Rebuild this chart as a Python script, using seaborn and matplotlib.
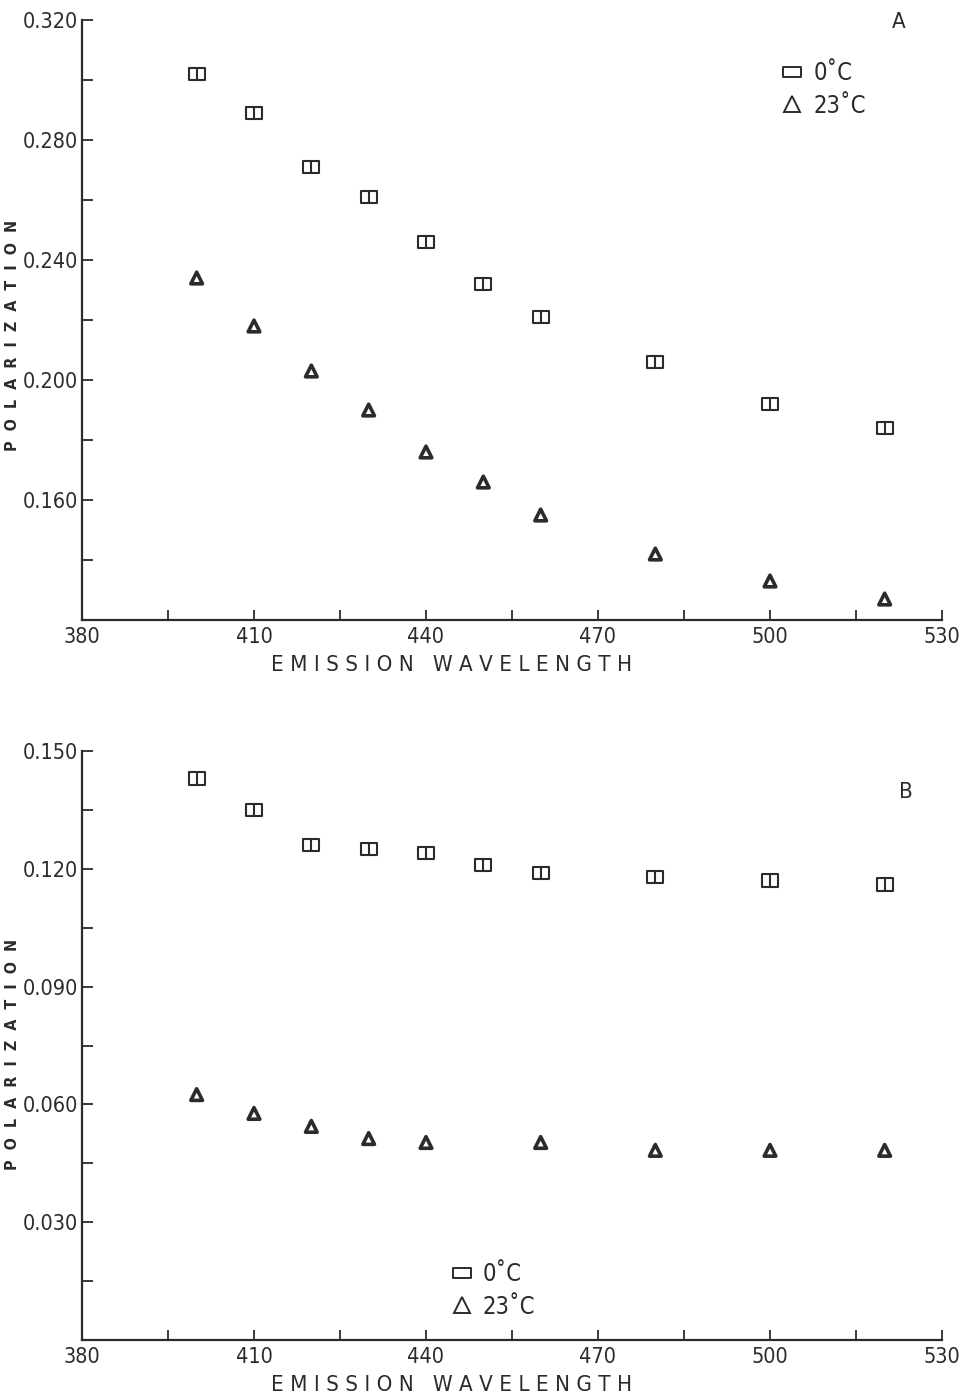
import numpy as np
import pandas as pd
import matplotlib
matplotlib.use("Agg")
import matplotlib.pyplot as plt
from matplotlib.path import Path
from matplotlib.lines import Line2D
import seaborn as sns

# values
wavelength = [400, 410, 420, 430, 440, 450, 460, 480, 500, 520]

pol_a_0c = [0.302, 0.289, 0.271, 0.261, 0.246, 0.232, 0.221, 0.206, 0.192, 0.184]
pol_a_23c = [0.234, 0.218, 0.203, 0.190, 0.176, 0.166, 0.155, 0.142, 0.133, 0.127]

pol_b_0c = [0.143, 0.135, 0.126, 0.125, 0.124, 0.121, 0.119, 0.118, 0.117, 0.116]
pol_b_23c = [0.0625, 0.0577, 0.0544, 0.0513, 0.0503, np.nan, 0.0503, 0.0483, 0.0483, 0.0483]

series_labels = ["0\u02daC", "23\u02daC"]
panel_letters = ["A", "B"]

sns.set_theme(style="ticks")
plt.rcParams["font.family"] = ["DejaVu Sans"]
plt.rcParams["font.stretch"] = "condensed"

INK = "#2b2b2b"

# box with a vertical bar in the middle, like the plotter symbol
box_path = Path(
    [(-1.3, -1), (1.3, -1), (1.3, 1), (-1.3, 1), (-1.3, -1), (0, -1), (0, 1)],
    [Path.MOVETO, Path.LINETO, Path.LINETO, Path.LINETO, Path.CLOSEPOLY,
     Path.MOVETO, Path.LINETO],
)
legend_box = Path(
    [(-1.4, -0.8), (1.4, -0.8), (1.4, 0.8), (-1.4, 0.8), (-1.4, -0.8)],
    [Path.MOVETO, Path.LINETO, Path.LINETO, Path.LINETO, Path.CLOSEPOLY],
)


def make_frame(values):
    df = pd.DataFrame({"wavelength": wavelength, "pol": values})
    return df.dropna()


fig = plt.figure(figsize=(9.61, 13.99), dpi=100)
ax_a = fig.add_axes([82 / 961, 1 - 620 / 1399, 860 / 961, 600 / 1399])
ax_b = fig.add_axes([82 / 961, 1 - 1340 / 1399, 860 / 961, 589 / 1399])

panels = [
    (ax_a, pol_a_0c, pol_a_23c, (0.120, 0.320), 0.020, 2, (0.798, 0.947), (0.942, 1.013), 0.475),
    (ax_b, pol_b_0c, pol_b_23c, (0.000, 0.150), 0.015, 2, (0.414, 0.148), (0.95, 0.947), 0.484),
]

for i, (ax, s0, s23, ylim, ystep, every, leg_pos, letter_pos, ylab_y) in enumerate(panels):
    sns.scatterplot(data=make_frame(s0), x="wavelength", y="pol", marker=box_path,
                    s=130, facecolor="none", edgecolor=INK, linewidth=1.5,
                    legend=False, ax=ax)
    sns.scatterplot(data=make_frame(s23), x="wavelength", y="pol", marker="^",
                    s=70, facecolor="none", edgecolor=INK, linewidth=2.6,
                    legend=False, ax=ax)
    ax.set_xlim(380, 530)
    ax.set_ylim(*ylim)
    sns.despine(ax=ax)
    for side in ["left", "bottom"]:
        ax.spines[side].set_color(INK)
        ax.spines[side].set_linewidth(1.6)

    xt = list(range(380, 531, 15))
    ax.set_xticks(xt)
    ax.set_xticklabels([str(v) if (v - 380) % 30 == 0 else "" for v in xt])
    yt = np.round(np.arange(ylim[0], ylim[1] + 1e-9, ystep), 3)
    ax.set_yticks(yt)
    ax.set_yticklabels([f"{v:.3f}" if k > 0 and k % every == 0 else "" for k, v in enumerate(yt)])
    ax.tick_params(axis="x", direction="in", length=7, width=1.3, color=INK,
                   labelsize=15.5, labelcolor=INK, pad=5)
    ax.tick_params(axis="y", direction="in", length=8, width=1.3, color=INK,
                   labelsize=15.5, labelcolor=INK, pad=3)

    ax.set_xlabel("E M I S S I O N   W A V E L E N G T H", fontsize=16, color=INK)
    ax.xaxis.set_label_coords((452 - 82) / 860, -0.058 if i == 0 else -0.059)
    ax.set_ylabel("P  O  L  A  R  I  Z  A  T  I  O  N", fontsize=11.5, color=INK,
                  fontweight="bold")
    ax.yaxis.set_label_coords(-0.072, ylab_y)

    handles = [
        Line2D([], [], marker=legend_box, linestyle="none", markersize=13,
               markerfacecolor="none", markeredgecolor=INK, markeredgewidth=1.4),
        Line2D([], [], marker="^", linestyle="none", markersize=11,
               markerfacecolor="none", markeredgecolor=INK, markeredgewidth=1.4),
    ]
    leg = ax.legend(handles, series_labels, loc="upper left", bbox_to_anchor=leg_pos,
                    frameon=False, fontsize=17, handletextpad=0.3, labelspacing=0.35,
                    handlelength=1.2, borderaxespad=0)
    for t in leg.get_texts():
        t.set_color(INK)

    ax.text(*letter_pos, panel_letters[i], transform=ax.transAxes, fontsize=16,
            color=INK, ha="left", va="top")

fig.savefig("out.png", dpi=100)
